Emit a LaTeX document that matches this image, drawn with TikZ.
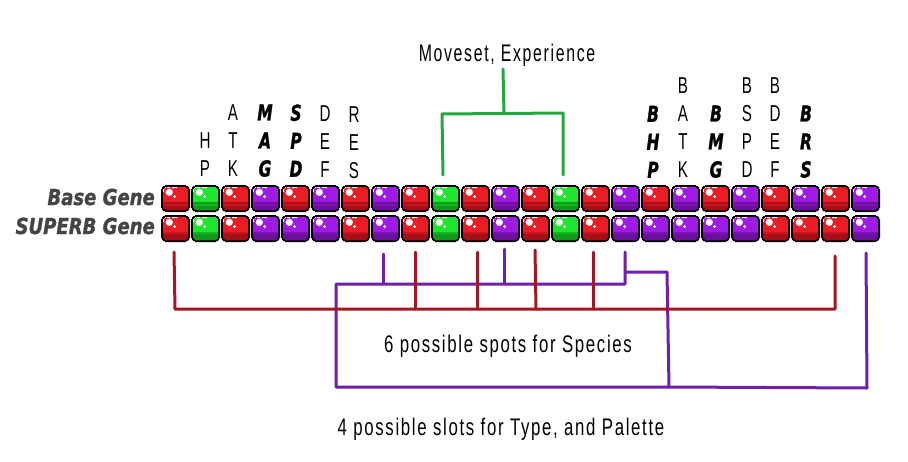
\documentclass[tikz,border=0pt]{standalone}
\usepackage{fontspec}
\newfontfamily\pixfont[FakeStretch=0.66,LetterSpace=7]{Liberation Sans}
\newfontfamily\longfont[FakeStretch=0.70,LetterSpace=7]{Liberation Sans}
\newfontfamily\heavyfont[FakeStretch=0.82,FakeBold=1.2]{DejaVu Sans}
\newfontfamily\stackfont[FakeStretch=0.7,FakeBold=1.2]{DejaVu Sans}
\definecolor{gemRmain}{HTML}{ED1C24}\definecolor{gemRmid}{HTML}{C9141E}\definecolor{gemRdark}{HTML}{A50F18}
\definecolor{gemGmain}{HTML}{1EE62E}\definecolor{gemGmid}{HTML}{14B522}\definecolor{gemGdark}{HTML}{0F9A1A}
\definecolor{gemPmain}{HTML}{A01AE6}\definecolor{gemPmid}{HTML}{7E14B8}\definecolor{gemPdark}{HTML}{6A109A}
\definecolor{linegreen}{HTML}{22A83C}\definecolor{linered}{HTML}{A31622}\definecolor{linepurple}{HTML}{7020A8}
\definecolor{genegray}{HTML}{444444}
\tikzset{
  gemcell/.style={minimum width=29pt,minimum height=27pt,inner sep=0pt,anchor=north west},
  statlabel/.style={font=\pixfont\fontsize{23}{28}\selectfont,align=center,anchor=south,inner sep=0pt},
  statheavy/.style={font=\stackfont\bfseries\itshape\fontsize{22}{28}\selectfont,align=center,anchor=south,inner sep=0pt},
  textlabel/.style={font=\pixfont\fontsize{24}{26}\selectfont,inner sep=0pt},
  longlabel/.style={font=\longfont\fontsize{24}{26}\selectfont,inner sep=0pt},
  genelabel/.style={font=\heavyfont\bfseries\itshape\fontsize{22}{24}\selectfont,text=genegray,anchor=east,inner sep=0pt},
  wire/.style={line width=3pt,line join=round,line cap=round},
}
\newcommand{\gemshape}[2]{%
  \fill[black] (4,0)--(25,0)--(25,1)--(27,1)--(27,2)--(28,2)--(28,4)--(29,4)--(29,23)--(28,23)--(28,25)--(27,25)--(27,26)--(25,26)--(25,27)--(4,27)--(4,26)--(2,26)--(2,25)--(1,25)--(1,23)--(0,23)--(0,4)--(1,4)--(1,2)--(2,2)--(2,1)--(4,1)--cycle;
  \begin{scope}
    \clip (4,2)--(25,2)--(25,3)--(26,3)--(26,4)--(27,4)--(27,23)--(26,23)--(26,24)--(25,24)--(25,25)--(4,25)--(4,24)--(3,24)--(3,23)--(2,23)--(2,4)--(3,4)--(3,3)--(4,3)--cycle;
    \fill[gem#1main] (0,0) rectangle (29,27);
    #2
    \fill[white] (2,2) rectangle (5,3) (2,3) rectangle (3,7) (6,2) rectangle (9,3) (11,2) rectangle (16,3);
  \end{scope}
  \fill[white] (8.3,7.3) circle[radius=3.6];
  \fill[white] (12,11) rectangle (15,12) (13,10) rectangle (14,13);
}
\newcommand{\topband}[1]{\fill[gem#1dark] (0,17) rectangle (29,19);\fill[gem#1mid] (0,19) rectangle (29,21);\fill[gem#1dark] (0,21) rectangle (29,27);}
\newcommand{\botband}[1]{\fill[gem#1mid] (0,17) rectangle (29,19);\fill[gem#1dark] (0,19) rectangle (29,27);}
\begin{document}
\begin{tikzpicture}[x=1pt,y=-1pt]
\useasboundingbox (0,0) rectangle (908,461);
\fill[white] (0,0) rectangle (908,461);
% gems
\foreach \c [count=\i from 0] in {R,G,R,P,R,P,R,P,R,G,R,P,R,G,R,P,R,P,R,P,R,P,R,P}{
  \pgfmathsetmacro{\gx}{161+30*\i}
  \node[gemcell] (t\i) at (\gx,185) {};
  \begin{scope}[shift={(\gx,185)}]\gemshape{\c}{\topband{\c}}\end{scope}
}
\foreach \c [count=\i from 0] in {R,G,R,P,P,P,R,P,R,G,R,P,R,G,R,P,P,P,P,P,R,R,R,P}{
  \pgfmathsetmacro{\gx}{161+30*\i}
  \node[gemcell] (b\i) at (\gx,215) {};
  \begin{scope}[shift={(\gx,215)}]\gemshape{\c}{\botband{\c}}\end{scope}
}
% gene labels
\node[genelabel] (basegene) at (155,197) {Base Gene};
\node[genelabel] (superbgene) at (155,226) {SUPERB Gene};
% stat labels
\node[statlabel] (hp) at (205,177) {H\\P};
\node[statlabel] (atk) at (233,177) {A\\T\\K};
\node[statheavy] (mag) at (265,177) {M\\A\\G};
\node[statheavy] (sapd) at (296,177) {S\\P\\D};
\node[statlabel] (def) at (325,178) {D\\E\\F};
\node[statlabel] (res) at (354,179) {R\\E\\S};
\node[statheavy] (bhp) at (653,178) {B\\H\\P};
\node[statlabel] (batk) at (683,178) {B\\A\\T\\K};
\node[statheavy] (bmag) at (716,178) {B\\M\\G};
\node[statlabel] (bspd) at (747,178) {B\\S\\P\\D};
\node[statlabel] (bdef) at (775,178) {B\\D\\E\\F};
\node[statheavy] (bres) at (806,178) {B\\R\\S};
% texts
\node[textlabel] (moveset) at (507,55) {Moveset, Experience};
\node[longlabel] (species) at (508,346) {6 possible spots for Species};
\node[longlabel] (types) at (501,429) {4 possible slots for Type, and Palette};
% green connector
\coordinate (gstem) at (503,69);
\coordinate (gj) at (504,113);
\coordinate (gl) at (442,114);
\coordinate (gr) at (563,113);
\coordinate (gle) at (443,175);
\coordinate (gre) at (563,175);
\draw[wire,linegreen] (gstem)--(gj);
\draw[wire,linegreen] (gle)--(gl)--(gr)--(gre);
% purple connector
\coordinate (pa) at (383,254);\coordinate (pab) at (383,284);
\coordinate (pb) at (504,249);\coordinate (pbb) at (504,284);
\coordinate (pc) at (625,252);\coordinate (pcm) at (625,272);\coordinate (pcb) at (625,284);
\coordinate (pl) at (336,284);\coordinate (pbl) at (336,387);
\coordinate (pr) at (667,272);\coordinate (pbm) at (669,387);
\coordinate (pbr) at (867,388);\coordinate (pe) at (866,253);
\draw[wire,linepurple] (pc)--(pcb)--(pl)--(pbl)--(pbm)--(pbr)--(pe);
\draw[wire,linepurple] (pcm)--(pr)--(pbm);
\draw[wire,linepurple] (pa)--(pab);
\draw[wire,linepurple] (pb)--(pbb);
% red connector
\coordinate (ra) at (174,252);\coordinate (rab) at (175,309);
\coordinate (rz) at (835,256);\coordinate (rzb) at (835,309);
\coordinate (r1) at (415,252);\coordinate (r1b) at (415,309);
\coordinate (r2) at (477,252);\coordinate (r2b) at (477,309);
\coordinate (r3) at (535,250);\coordinate (r3b) at (536,309);
\coordinate (r4) at (593,252);\coordinate (r4b) at (593,309);
\draw[wire,linered] (ra)--(rab)--(rzb)--(rz);
\draw[wire,linered] (r1)--(r1b);
\draw[wire,linered] (r2)--(r2b);
\draw[wire,linered] (r3)--(r3b);
\draw[wire,linered] (r4)--(r4b);
\end{tikzpicture}
\end{document}
